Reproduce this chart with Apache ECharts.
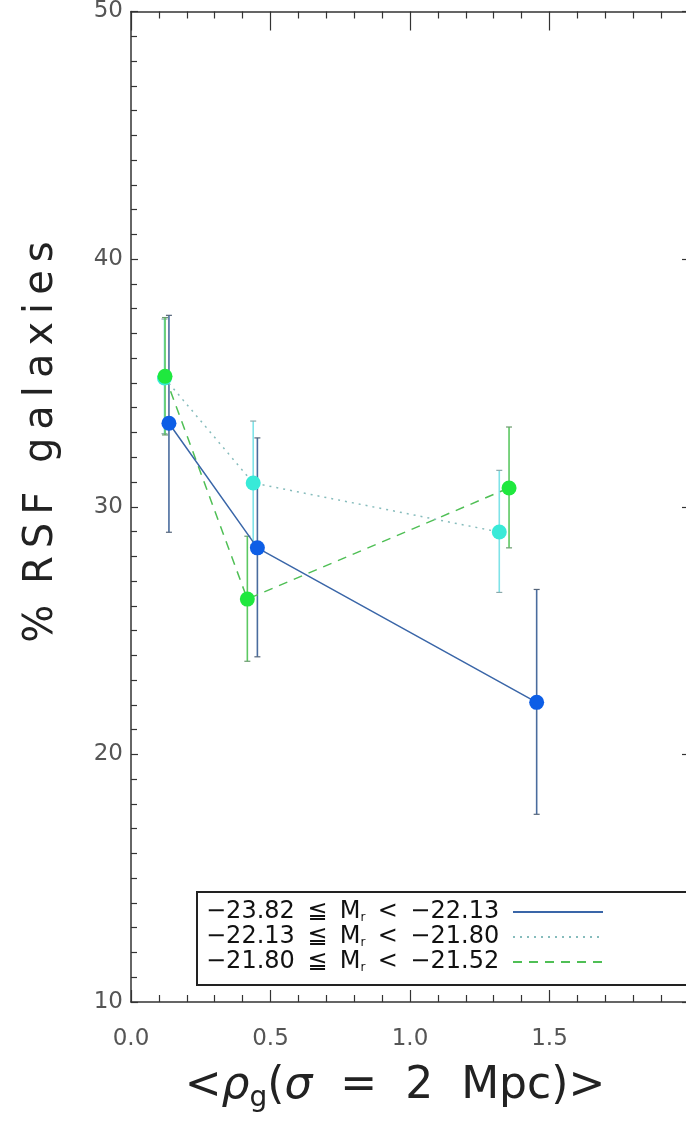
<!DOCTYPE html>
<html>
<head>
<meta charset="utf-8">
<script src="https://cdn.jsdelivr.net/npm/echarts@6/dist/echarts.min.js"></script>
<style>
html,body{margin:0;padding:0;background:#fff;overflow:hidden;width:686px;height:1121px;}
#chart{width:704px;height:1121px;}
</style>
</head>
<body>
<div id="chart"></div>
<script>
// ---- data ----
const seriesNames = ['-23.82 ≦ Mr < -22.13', '-22.13 ≦ Mr < -21.80', '-21.80 ≦ Mr < -21.52'];
const legendLabels = ['−23.82 \u2009≦ \u2009M{sub|r} \u2009< \u2009−22.13', '−22.13 \u2009≦ \u2009M{sub|r} \u2009< \u2009−21.80', '−21.80 \u2009≦ \u2009M{sub|r} \u2009< \u2009−21.52'];

const blueX  = [0.136, 0.453, 1.454];
const blueY  = [33.37, 28.34, 22.10];
const blueLo = [28.97, 23.94, 17.58];
const blueHi = [37.73, 32.78, 26.66];

const cyanX  = [0.120, 0.438, 1.320];
const cyanY  = [35.20, 30.96, 28.98];
const cyanLo = [32.95, 28.46, 26.54];
const cyanHi = [37.58, 33.46, 31.47];

const greenX  = [0.122, 0.417, 1.355];
const greenY  = [35.27, 26.27, 30.76];
const greenLo = [32.90, 23.76, 28.34];
const greenHi = [37.64, 28.81, 33.22];

const xTickLabels = ['0.0', '0.5', '1.0', '1.5', ''];
const yTickLabels = ['10', '20', '30', '40', '50'];

// ---- styles ----
const styles = [
  {dot:'#0d5ee6', line:'#3a66a8', bar:'#4a6c9e', cap:'#55657a', type:'solid'},
  {dot:'#38ead8', line:'#86bcbc', bar:'#7fe3e8', cap:'#8aa8aa', type:[2,5]},
  {dot:'#1fe83e', line:'#4fbf55', bar:'#5cc862', cap:'#6a9a6e', type:[9,7]}
];

function pts(xs, ys){ return xs.map((x,i)=>[x, ys[i]]); }
function errData(xs, lo, hi){ return xs.map((x,i)=>[x, lo[i], hi[i]]); }

function errSeries(data, st){
  return {
    type:'custom',
    data: data,
    encode:{x:0, y:[1,2]},
    silent:true,
    renderItem: function(params, api){
      const x = api.value(0);
      const pLo = api.coord([x, api.value(1)]);
      const pHi = api.coord([x, api.value(2)]);
      const w = 3;
      return {type:'group', children:[
        {type:'line', shape:{x1:pLo[0], y1:pLo[1], x2:pHi[0], y2:pHi[1]}, style:{stroke:st.bar, lineWidth:1.6}},
        {type:'line', shape:{x1:pLo[0]-w, y1:pLo[1], x2:pLo[0]+w, y2:pLo[1]}, style:{stroke:st.cap, lineWidth:1.2}},
        {type:'line', shape:{x1:pHi[0]-w, y1:pHi[1], x2:pHi[0]+w, y2:pHi[1]}, style:{stroke:st.cap, lineWidth:1.2}}
      ]};
    }
  };
}
function lineSeries(name, data, st){
  return {
    type:'line', name:name, data:data,
    symbol:'circle', symbolSize:15,
    itemStyle:{color:st.dot},
    lineStyle:{color:st.line, width:1.5, type:st.type},
    animation:false
  };
}

const chart = echarts.init(document.getElementById('chart'), null, {renderer:'canvas'});

const axisLineStyle = {color:'#333', width:1.5};
const tickFont = {fontFamily:'DejaVu Sans', fontSize:23, color:'#555'};

const legendGraphics = [
  {type:'rect', shape:{x:197, y:892, width:600, height:93}, style:{fill:'#fff', stroke:'#222', lineWidth:2}, z:100}
];
const legendRowsY = [912, 937, 962];
legendLabels.forEach((lab, i)=>{
  legendGraphics.push({
    type:'text', x:206, y:legendRowsY[i], z:101,
    style:{text:lab, fontFamily:'DejaVu Sans', fontSize:24, fill:'#111', verticalAlign:'middle', align:'left',
      rich:{sub:{fontFamily:'DejaVu Sans', fontSize:12, fill:'#111', verticalAlign:'bottom', padding:[12,0,0,0]}}}
  });
  legendGraphics.push({
    type:'line', z:101, shape:{x1:513, y1:legendRowsY[i], x2:603, y2:legendRowsY[i]},
    style:{stroke:styles[i].line, lineWidth:1.8, lineDash: styles[i].type==='solid'?null:styles[i].type}
  });
});

const option = {
  animation:false,
  backgroundColor:'#fff',
  grid:{left:131, top:11, width:558, height:991, containLabel:false},
  xAxis:[
    {type:'value', position:'bottom', min:0, max:2, interval:0.5,
     axisLine:{show:true, onZero:false, lineStyle:axisLineStyle},
     axisTick:{show:true, inside:true, length:12, lineStyle:{color:'#333', width:1.2}},
     minorTick:{show:true, splitNumber:5, length:7, lineStyle:{color:'#333', width:1.2}},
     splitLine:{show:false},
     axisLabel:Object.assign({margin:26, formatter:(v)=>xTickLabels[Math.round(v/0.5)] ?? ''}, tickFont)
    },
    {type:'value', position:'top', min:0, max:2, interval:0.5,
     axisLine:{show:true, onZero:false, lineStyle:axisLineStyle},
     axisTick:{show:true, inside:true, length:19, lineStyle:{color:'#333', width:1.2}},
     minorTick:{show:true, splitNumber:5, length:7, lineStyle:{color:'#333', width:1.2}},
     splitLine:{show:false}, axisLabel:{show:false}
    }
  ],
  yAxis:[
    {type:'value', position:'left', min:10, max:50, interval:10,
     axisLine:{show:true, onZero:false, lineStyle:axisLineStyle},
     axisTick:{show:true, inside:true, length:7, lineStyle:{color:'#333', width:1.2}},
     minorTick:{show:true, splitNumber:10, length:6, lineStyle:{color:'#333', width:1.2}},
     splitLine:{show:false},
     axisLabel:Object.assign({margin:8, formatter:(v)=>yTickLabels[Math.round((v-10)/10)] ?? ''}, tickFont)
    },
    {type:'value', position:'right', min:10, max:50, interval:10,
     axisLine:{show:true, onZero:false, lineStyle:axisLineStyle},
     axisTick:{show:true, inside:true, length:7, lineStyle:{color:'#333', width:1.2}},
     minorTick:{show:true, splitNumber:10, length:3, lineStyle:{color:'#333', width:1.2}},
     splitLine:{show:false}, axisLabel:{show:false}
    }
  ],
  series:[
    errSeries(errData(cyanX, cyanLo, cyanHi), styles[1]),
    lineSeries(seriesNames[1], pts(cyanX, cyanY), styles[1]),
    errSeries(errData(greenX, greenLo, greenHi), styles[2]),
    lineSeries(seriesNames[2], pts(greenX, greenY), styles[2]),
    errSeries(errData(blueX, blueLo, blueHi), styles[0]),
    lineSeries(seriesNames[0], pts(blueX, blueY), styles[0])
  ],
  graphic:[
    {type:'text', x:42, y:442, rotation:Math.PI/2, z:50,
     style:{text:'%\u2009 R\u2009S\u2009F\u2009 \u2009g\u2009a\u2009l\u2009a\u2009x\u2009i\u2009e\u2009s', fontFamily:'DejaVu Sans', fontSize:40,
            fill:'#222', align:'center', verticalAlign:'middle'}},
    {type:'text', x:395, y:1087, z:50,
     style:{text:'<{it|ρ}{sub|g}({it|σ}  =  2  Mpc)>', fontFamily:'DejaVu Sans', fontSize:44, fill:'#222',
            align:'center', verticalAlign:'middle',
            rich:{it:{fontFamily:'DejaVu Sans', fontStyle:'italic', fontSize:44, fill:'#222'},
                  sub:{fontFamily:'DejaVu Sans', fontSize:28, fill:'#222', verticalAlign:'bottom', padding:[24,0,0,0]}}}}
  ].concat(legendGraphics)
};
chart.setOption(option);
</script>
</body>
</html>
